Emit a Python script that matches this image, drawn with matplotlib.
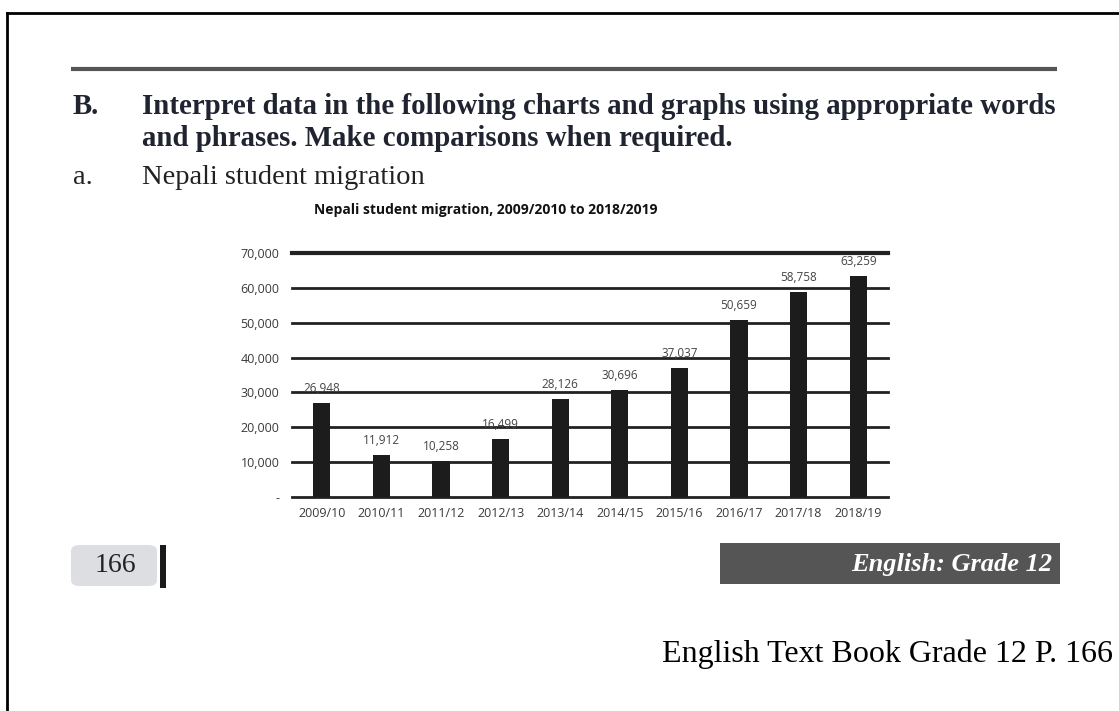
import matplotlib
matplotlib.use("Agg")
import matplotlib.pyplot as plt
from matplotlib.patches import Rectangle, FancyBboxPatch
from matplotlib.lines import Line2D
from matplotlib.ticker import FuncFormatter

# data
years = ["2009/10", "2010/11", "2011/12", "2012/13", "2013/14",
         "2014/15", "2015/16", "2016/17", "2017/18", "2018/19"]
students = [26948, 11912, 10258, 16499, 28126, 30696, 37037, 50659, 58758, 63259]
y_ticks = [0, 10000, 20000, 30000, 40000, 50000, 60000, 70000]

chart_title = "Nepali student migration, 2009/2010 to 2018/2019"
heading_1 = "Interpret data in the following charts and graphs using appropriate words"
heading_2 = "and phrases. Make comparisons when required."
sub_heading = "Nepali student migration"
page_no = "166"
book_tag = "English: Grade 12"
caption = "English Text Book Grade 12 P. 166"

W, H = 1119, 711


def px(x, y):
    # pixel coords (from top-left) -> figure fraction
    return x / W, 1 - y / H


fig = plt.figure(figsize=(W / 100, H / 100), dpi=100)
fig.patch.set_facecolor("white")

serif = "Liberation Serif"
sans = "Open Sans"

# outer frame (top and left edges only show)
fig.add_artist(Line2D([7 / W, 1], [1 - 13 / H] * 2, transform=fig.transFigure,
                      color="black", lw=2))
fig.add_artist(Line2D([7 / W] * 2, [0, 1 - 13 / H], transform=fig.transFigure,
                      color="black", lw=2))

# grey rule above the heading
fig.add_artist(Line2D([71 / W, 1057 / W], [1 - 69 / H] * 2, transform=fig.transFigure,
                      color="#555555", lw=3, solid_capstyle="butt"))

# heading text
fig.text(*px(73, 107), "B.", family=serif, weight="bold", size=20.8,
         color="#1f2430", va="center")
fig.text(*px(142, 107), heading_1, family=serif, weight="bold", size=20.8,
         color="#1f2430", va="center")
fig.text(*px(142, 139), heading_2, family=serif, weight="bold", size=20.8,
         color="#1f2430", va="center")
fig.text(*px(73, 178), "a.", family=serif, size=20.5, color="#222222", va="center")
fig.text(*px(142, 178), sub_heading, family=serif, size=20.5, color="#222222", va="center")

# chart
ax = fig.add_axes([292 / W, 1 - 497 / H, 596 / W, 244 / H])
x = range(len(years))
ax.bar(x, students, width=0.29, color="#1c1c1c", zorder=3)
ax.set_xlim(-0.5, len(years) - 0.5)
ax.set_ylim(0, 70000)
ax.set_yticks(y_ticks)
ax.yaxis.set_major_formatter(FuncFormatter(lambda v, p: "-" if v == 0 else f"{v:,.0f}"))
ax.set_xticks(list(x))
ax.set_xticklabels(years)
ax.tick_params(axis="both", length=0, labelsize=9, labelcolor="#3a3a3a")
ax.tick_params(axis="y", pad=9)
ax.tick_params(axis="x", pad=7)
for lab in ax.get_xticklabels() + ax.get_yticklabels():
    lab.set_family(sans)
for s in ax.spines.values():
    s.set_visible(False)
for v in y_ticks:
    ax.axhline(v, color="#222222", lw=3 if v == 70000 else 2, zorder=2, clip_on=False)

for i, v in enumerate(students):
    ax.annotate(f"{v:,}", (i, v), xytext=(0, 6), textcoords="offset points",
                ha="center", va="bottom", size=8.5, color="#444444", family=sans)

fig.text(*px(486, 210), chart_title, family=sans, weight="bold", size=10,
         color="#111111", ha="center", va="center")

# footer: page number tab
fig.add_artist(FancyBboxPatch((71 / W, 1 - 586 / H), 86 / W, 41 / H,
                              boxstyle="round,pad=0,rounding_size=0.008",
                              transform=fig.transFigure, facecolor="#dcdee2",
                              edgecolor="none"))
fig.add_artist(Rectangle((160 / W, 1 - 588 / H), 6 / W, 43 / H, transform=fig.transFigure,
                         facecolor="#1a1a1a", edgecolor="none"))
fig.text(*px(115, 566), page_no, family=serif, size=20, color="#222222",
         ha="center", va="center")

# footer: dark grade tag
fig.add_artist(Rectangle((720 / W, 1 - 584 / H), 340 / W, 41 / H, transform=fig.transFigure,
                         facecolor="#555555", edgecolor="none"))
fig.text(*px(1052, 565), book_tag, family=serif, weight="bold", style="italic",
         size=19, color="white", ha="right", va="center")

fig.text(*px(1113, 654), caption, family=serif, size=23, color="black",
         ha="right", va="center")

fig.savefig("out.png", dpi=100)
